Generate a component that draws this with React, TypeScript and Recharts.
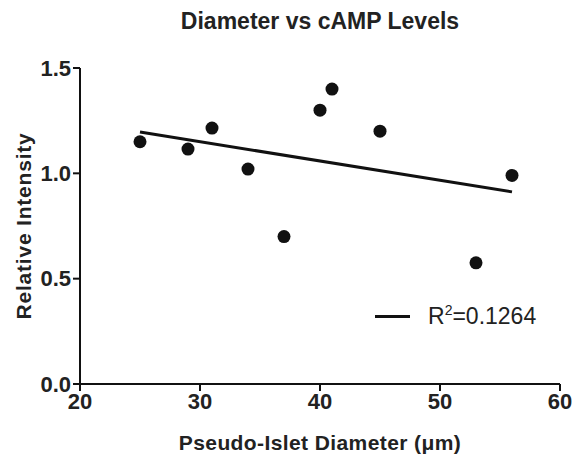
import { ComposedChart, Scatter, XAxis, YAxis } from "recharts";

// diameter (µm) vs relative intensity
const diameters = [25, 29, 31, 34, 37, 40, 41, 45, 53, 56];
const intensity = [1.15, 1.115, 1.215, 1.02, 0.7, 1.3, 1.4, 1.2, 0.575, 0.99];

// fitted line endpoints
const fitX = [25, 56];
const fitY = [1.196, 0.912];

const xTicks = [20, 30, 40, 50, 60];
const yTicks = [0, 0.5, 1.0, 1.5];

const points = diameters.map((d, i) => ({ x: d, y: intensity[i] }));
const fit = fitX.map((d, i) => ({ x: d, y: fitY[i] }));

const font = "'Liberation Sans', Arial, sans-serif";
const tickStyle = { fill: "#222", fontSize: 22, fontWeight: "bold", fontFamily: font };

export default function App() {
  return (
    <div
      style={{
        position: "absolute",
        left: 0,
        top: 0,
        width: 574,
        height: 462,
        background: "#fff",
      }}
    >
      <div
        style={{
          position: "absolute",
          left: 0,
          width: 640,
          top: 8,
          textAlign: "center",
          fontFamily: font,
          fontWeight: "bold",
          fontSize: 23,
          color: "#222",
        }}
      >
        Diameter vs cAMP Levels
      </div>
      <ComposedChart
        width={574}
        height={462}
        margin={{ top: 68, right: 14, bottom: 0, left: 0 }}
      >
        <XAxis
          type="number"
          dataKey="x"
          domain={[20, 60]}
          ticks={xTicks}
          height={78}
          axisLine={{ stroke: "#111", strokeWidth: 2 }}
          tickLine={{ stroke: "#111", strokeWidth: 2 }}
          tickSize={7}
          tick={tickStyle}
          label={{
            value: "Pseudo-Islet Diameter (μm)",
            position: "insideBottom",
            offset: 12,
            fill: "#222",
            fontSize: 21,
            fontWeight: "bold",
            fontFamily: font,
            letterSpacing: 0.4,
          }}
        />
        <YAxis
          type="number"
          dataKey="y"
          domain={[0, 1.5]}
          ticks={yTicks}
          tickFormatter={(v: number) => v.toFixed(1)}
          width={80}
          axisLine={{ stroke: "#111", strokeWidth: 2 }}
          tickLine={{ stroke: "#111", strokeWidth: 2 }}
          tickSize={7}
          tick={tickStyle}
          label={{
            value: "Relative Intensity",
            angle: -90,
            position: "insideLeft",
            offset: 24,
            style: { textAnchor: "middle" },
            fill: "#222",
            fontSize: 21,
            fontWeight: "bold",
            fontFamily: font,
            letterSpacing: 0.8,
          }}
        />
        <Scatter
          data={fit}
          line={{ stroke: "#111", strokeWidth: 3 }}
          shape={() => null}
          isAnimationActive={false}
          legendType="none"
        />
        <Scatter
          data={points}
          fill="#111"
          shape={(p: any) => <circle cx={p.cx} cy={p.cy} r={6.5} fill="#111" />}
          isAnimationActive={false}
          legendType="none"
        />
      </ComposedChart>
      <div
        style={{
          position: "absolute",
          left: 375,
          top: 305,
          display: "flex",
          alignItems: "center",
          fontFamily: font,
          fontSize: 23,
          lineHeight: "23px",
          color: "#222",
        }}
      >
        <span
          style={{
            display: "inline-block",
            width: 35,
            height: 3,
            background: "#111",
            marginRight: 18,
          }}
        />
        <span>
          R<sup style={{ fontSize: 14, verticalAlign: "9px", lineHeight: 0 }}>2</sup>
          =0.1264
        </span>
      </div>
    </div>
  );
}
